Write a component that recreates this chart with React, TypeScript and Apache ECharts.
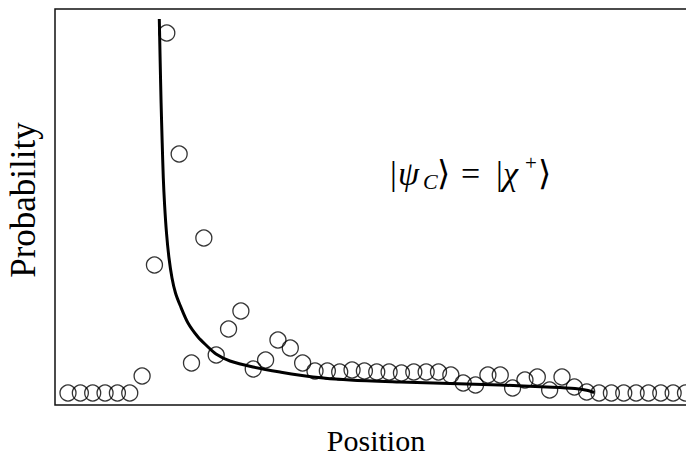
import React, { useEffect, useRef } from "react";
import * as echarts from "echarts";

// Position index of each measured point
const positions = [
  0, 1, 2, 3, 4, 5, 6, 7, 8, 9, 10, 11, 12, 13, 14, 15, 16, 17, 18, 19, 20,
  21, 22, 23, 24, 25, 26, 27, 28, 29, 30, 31, 32, 33, 34, 35, 36, 37, 38, 39,
  40, 41, 42, 43, 44, 45, 46, 47, 48, 49, 50,
];
// Measured probability (arbitrary units)
const probability = [
  0, 0, 0, 0, 0, 0, 0.017, 0.128, 0.36, 0.239, 0.03, 0.155, 0.038, 0.064,
  0.082, 0.024, 0.033, 0.053, 0.045, 0.03, 0.022, 0.022, 0.021, 0.023, 0.022,
  0.021, 0.021, 0.02, 0.021, 0.021, 0.021, 0.018, 0.01, 0.008, 0.018, 0.018,
  0.005, 0.013, 0.016, 0.003, 0.016, 0.006, 0.001, 0, 0, 0, 0, 0, 0, 0, 0,
];
// Theoretical curve
const curveX = [
  7.393, 7.466, 7.538, 7.628, 7.717, 7.822, 7.976, 8.178, 8.421, 8.704, 9.069,
  9.717, 10.526, 11.255, 11.984, 13.117, 14.98, 17.166, 19.838, 22.834, 26.883,
  30.931, 34.98, 38.785, 41.053, 42.105, 42.6,
];
const curveY = [
  0.374, 0.33, 0.29, 0.25, 0.215, 0.188, 0.16, 0.135, 0.115, 0.1, 0.088, 0.07,
  0.056, 0.047, 0.039, 0.032, 0.026, 0.021, 0.016, 0.013, 0.011, 0.0095, 0.008,
  0.006, 0.0045, 0.0025, 0.0005,
];

const SERIF = '"Liberation Serif", "DejaVu Serif", serif';

export default function App() {
  const ref = useRef<HTMLDivElement>(null);
  useEffect(() => {
    document.body.style.margin = "0";
    const chart = echarts.init(ref.current!, null, { renderer: "svg" });
    const mathY = 173;
    const part = (text: string, x: number, y: number, size: number, italic: boolean) => ({
      type: "text",
      x,
      y,
      silent: true,
      style: {
        text,
        fontFamily: SERIF,
        fontSize: size,
        fontStyle: italic ? "italic" : "normal",
        fill: "#000",
        align: "left",
        verticalAlign: "middle",
      },
    });
    chart.setOption({
      animation: false,
      backgroundColor: "#fff",
      grid: {
        left: 55,
        top: 9,
        width: 650,
        height: 396,
        outerBoundsMode: "none",
        containLabel: false,
        show: true,
        borderColor: "#111",
        borderWidth: 1.5,
        backgroundColor: "transparent",
      },
      xAxis: {
        type: "value",
        min: -1.0526,
        max: 51.579,
        axisLine: { show: false },
        axisTick: { show: false },
        axisLabel: { show: false },
        splitLine: { show: false },
      },
      yAxis: {
        type: "value",
        min: -0.012,
        max: 0.384,
        axisLine: { show: false },
        axisTick: { show: false },
        axisLabel: { show: false },
        splitLine: { show: false },
      },
      series: [
        {
          type: "line",
          data: curveX.map((x, i) => [x, curveY[i]]),
          showSymbol: false,
          smooth: 0.3,
          lineStyle: { color: "#000", width: 3 },
          z: 2,
        },
        {
          type: "scatter",
          data: positions.map((x, i) => [x, probability[i]]),
          symbol: "circle",
          symbolSize: 16,
          itemStyle: { color: "rgba(0,0,0,0)", borderColor: "#000", borderWidth: 1.3 },
          z: 3,
        },
      ],
      graphic: [
        {
          type: "text",
          x: 23,
          y: 200,
          rotation: Math.PI / 2,
          silent: true,
          style: {
            text: "Probability",
            fontFamily: SERIF,
            fontSize: 35,
            lineHeight: 26,
            fill: "#000",
            align: "center",
            verticalAlign: "middle",
          },
        },
        {
          type: "text",
          x: 376,
          y: 440,
          silent: true,
          style: {
            text: "Position",
            fontFamily: SERIF,
            fontSize: 30,
            lineHeight: 22,
            fill: "#000",
            align: "center",
            verticalAlign: "middle",
          },
        },
        part("|", 390, mathY, 34, false),
        part("ψ", 398, mathY, 34, true),
        part("C", 423, mathY + 8, 22, true),
        part("⟩", 437, mathY, 34, false),
        part("=", 461, mathY, 34, false),
        part("|", 496, mathY, 34, false),
        part("χ", 503, mathY, 34, true),
        part("+", 525, mathY - 10, 21, false),
        part("⟩", 538, mathY, 34, false),
      ],
    });
    return () => chart.dispose();
  }, []);
  return <div ref={ref} style={{ width: 686, height: 456 }} />;
}
